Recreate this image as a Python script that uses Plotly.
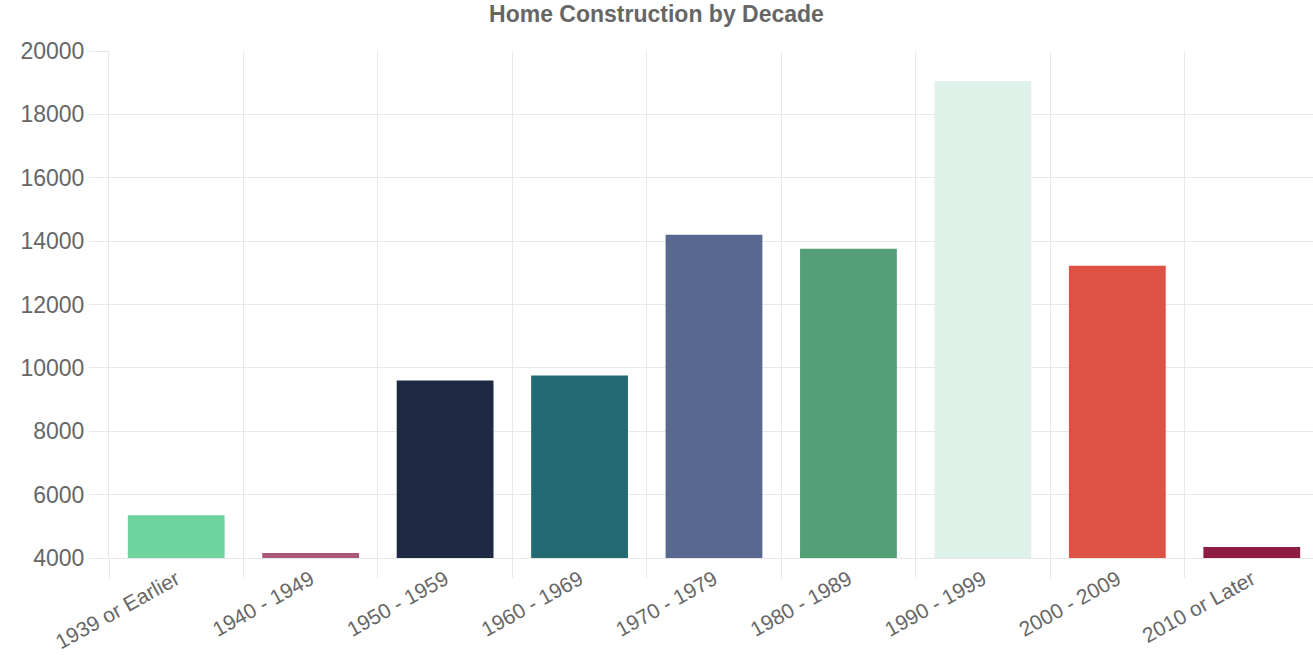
import plotly.graph_objects as go

categories = ["1939 or Earlier", "1940 - 1949", "1950 - 1959", "1960 - 1969",
              "1970 - 1979", "1980 - 1989", "1990 - 1999", "2000 - 2009", "2010 or Later"]
homes = [5350, 4160, 9600, 9760, 14200, 13760, 19050, 13220, 4350]
bar_colors = ["#6fd3a0", "#a9587a", "#1f2944", "#246a72", "#58688f",
              "#549e78", "#dff2ea", "#de5246", "#8e1c43"]
y_ticks = [4000, 6000, 8000, 10000, 12000, 14000, 16000, 18000, 20000]
y_tick_labels = [str(v) for v in y_ticks]

FONT = "Liberation Sans, Arial, Helvetica, sans-serif"
GRID = "#e8e8e8"

fig = go.Figure(go.Bar(
    x=categories, y=homes,
    marker=dict(color=bar_colors, line=dict(width=0)),
    hoverinfo="x+y",
))

fig.update_layout(
    width=1313, height=655,
    margin=dict(l=109, r=0, t=51, b=97),
    paper_bgcolor="white", plot_bgcolor="white",
    bargap=0.28,
    showlegend=False,
    title=dict(text="<b>Home Construction by Decade</b>", x=0.5, xanchor="center",
               y=1 - 14 / 655, yanchor="middle", yref="container",
               font=dict(family=FONT, size=23, color="#666666")),
    font=dict(family=FONT, color="#666666"),
)

fig.update_xaxes(
    type="category",
    range=[-0.5, 8.5 - 6 / 134.5],
    tickson="boundaries",
    ticks="outside", ticklen=19, tickcolor=GRID, tickwidth=1,
    showgrid=True, gridcolor=GRID, gridwidth=1,
    showline=True, linecolor=GRID, linewidth=1,
    tickangle=-29,
    tickfont=dict(family=FONT, size=21, color="#666666"),
)
fig.update_yaxes(
    range=[4000, 20000],
    tickvals=y_ticks, ticktext=y_tick_labels,
    ticks="outside", ticklen=19, tickcolor=GRID, tickwidth=1,
    showgrid=True, gridcolor=GRID, gridwidth=1,
    showline=True, linecolor=GRID, linewidth=1,
    zeroline=False,
    tickfont=dict(family=FONT, size=23, color="#666666"),
)

fig.write_html("out.html")
